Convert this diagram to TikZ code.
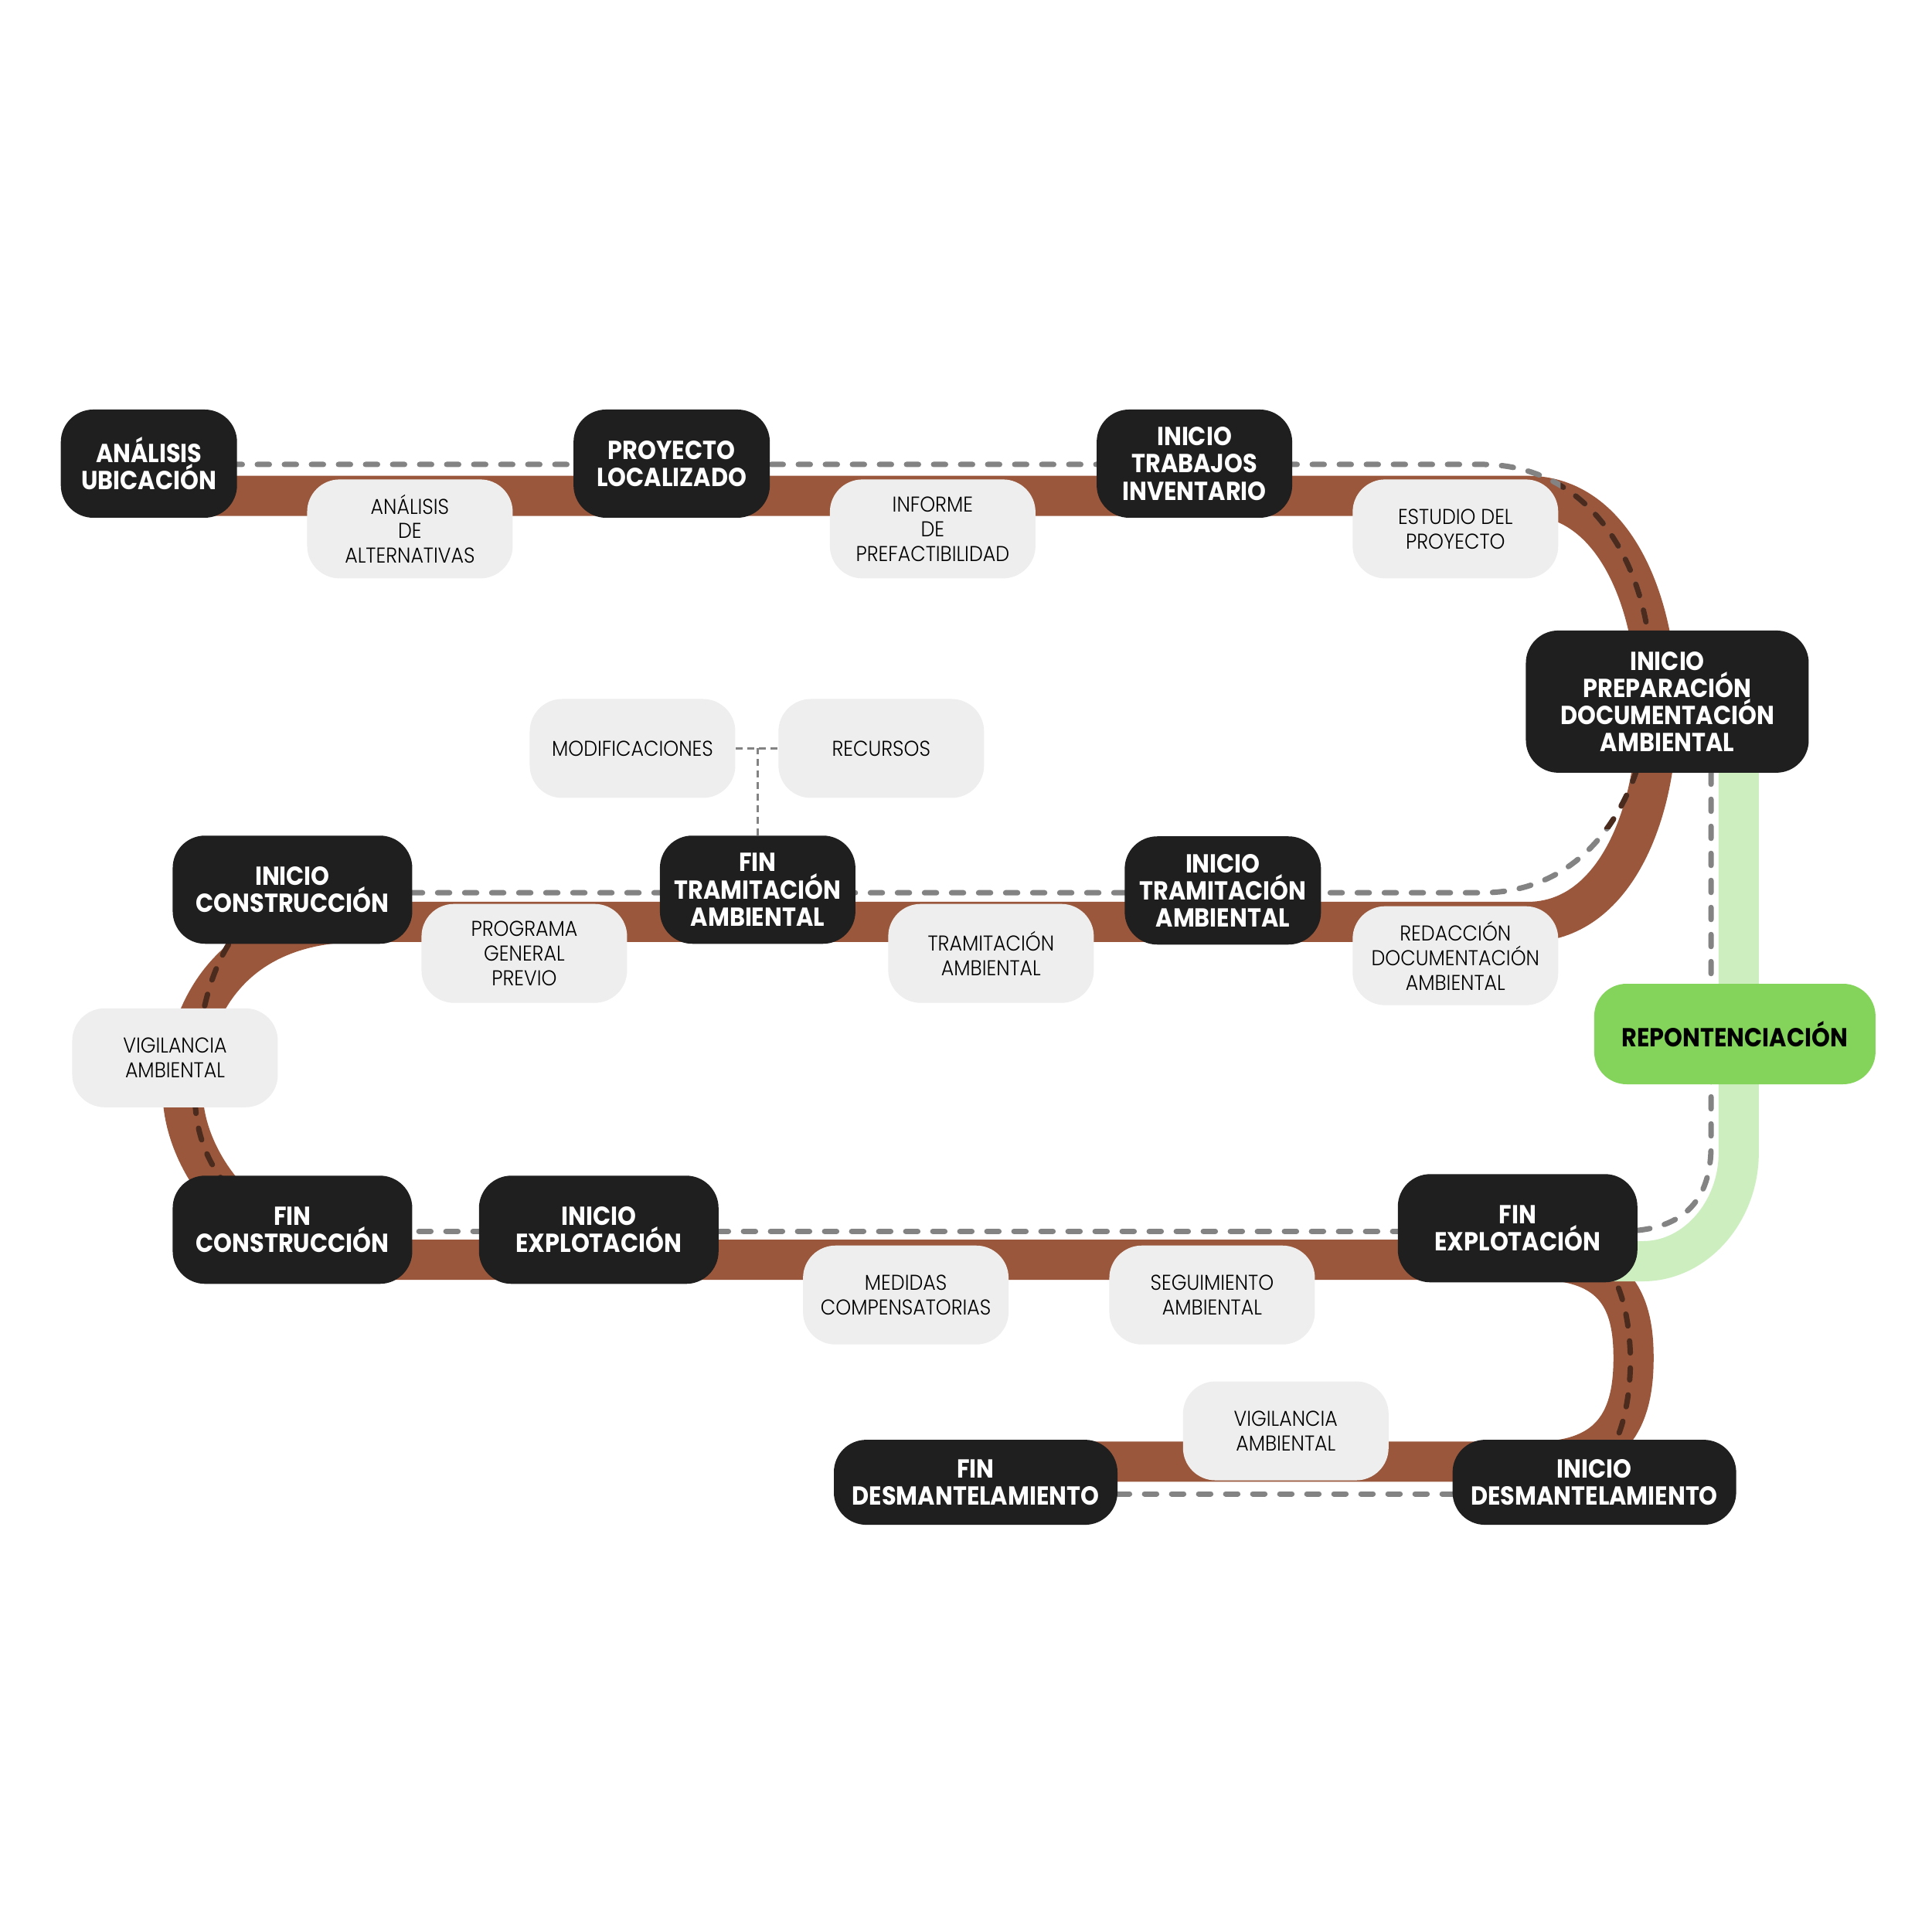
\documentclass[tikz,border=0pt]{standalone}
\usepackage{fontspec}
\newfontfamily\hitofont[FakeStretch=0.9]{Poppins}
\IfFontExistsTF{Poppins Light}
  {\newfontfamily\notafont[FakeStretch=0.91]{Poppins Light}}
  {\newfontfamily\notafont[FakeStretch=0.91]{Poppins}}

\definecolor{hitonegro}{HTML}{1F1F1F}
\definecolor{notagris}{HTML}{EEEEEE}
\definecolor{tierra}{HTML}{9A573B}
\definecolor{guiagris}{HTML}{838383}
\definecolor{guiaoscuro}{HTML}{4A2B1D}
\definecolor{verde}{HTML}{84D35B}
\definecolor{verdeclaro}{HTML}{CDEFC0}

\tikzset{
  hito/.style={fill=hitonegro, text=white, rounded corners=0.42cm, align=center, inner sep=0pt,
    minimum height=1.4cm, font=\hitofont\bfseries\fontsize{9.6}{10}\selectfont},
  nota/.style={fill=notagris, rounded corners=0.42cm, align=center, inner sep=0pt,
    minimum width=2.66cm, minimum height=1.28cm, font=\notafont\fontsize{7.9}{9.1}\selectfont},
  via/.style={line width=0.52cm, draw=tierra},
  ramal/.style={line width=0.52cm, draw=verdeclaro},
  guia/.style={line width=0.07cm, draw=guiagris, line cap=round, dash pattern=on 0.155cm off 0.195cm},
  guiaosc/.style={guia, draw=guiaoscuro},
  enlace/.style={line width=0.025cm, draw=guiagris, dash pattern=on 0.09cm off 0.06cm},
}

\begin{document}
\begin{tikzpicture}[x=0.009934cm, y=-0.009934cm]
  \useasboundingbox[fill=white] (0cm,0cm) rectangle (25cm,-25cm);

  % track
  \draw[via] (200,646) -- (1990,646) .. controls (2215,646) and (2215,1201) .. (1990,1201)
    -- (470,1201) .. controls (320,1201) and (245,1292) .. (238,1422)
    .. controls (238,1517) and (330,1641) .. (480,1641) -- (2000,1641)
    .. controls (2110,1641) and (2128,1702) .. (2128,1769)
    .. controls (2128,1836) and (2110,1904) .. (2000,1904) -- (1250,1904);
  \draw[ramal] (2265,1000) -- (2265,1502) .. controls (2265,1577) and (2210,1643) .. (2140,1643) -- (2050,1643);

  % dashed guide
  \draw[guia] (300,605) -- (1930,605) .. controls (2225,605) and (2225,1163) .. (1930,1163) -- (530,1163);
  \begin{scope}
    \clip (2033,615) rectangle (2300,1080);
    \draw[guiaosc] (300,605) -- (1930,605) .. controls (2225,605) and (2225,1163) .. (1930,1163) -- (530,1163);
  \end{scope}
  \draw[guiaosc] (520,1163) -- (420,1163) .. controls (292,1163) and (257,1292) .. (254,1422)
    .. controls (252,1522) and (320,1604) .. (440,1604);
  \draw[guia] (440,1604) -- (2110,1604);
  \draw[guiaosc] (2000,1604) .. controls (2100,1604) and (2122,1692) .. (2124,1769)
    .. controls (2124,1842) and (2105,1946) .. (2000,1946);
  \draw[guia] (2000,1946) -- (1440,1946);
  \draw[guia] (2229,1006) -- (2229,1492) .. controls (2229,1567) and (2190,1604) .. (2110,1604);

  % notes
  \node[nota] (alternativas) at (534,689) {ANÁLISIS\\DE\\ALTERNATIVAS};
  \node[nota] (informe) at (1215,689) {INFORME\\DE\\PREFACTIBILIDAD};
  \node[nota] (estudio) at (1896,689) {ESTUDIO DEL\\PROYECTO};
  \node[nota] (modif) at (824,975) {MODIFICACIONES};
  \node[nota] (recur) at (1148,975) {RECURSOS};
  \node[nota] (programa) at (683,1242) {PROGRAMA\\GENERAL\\PREVIO};
  \node[nota] (tramita) at (1291,1242) {TRAMITACIÓN\\AMBIENTAL};
  \node[nota] (redacc) at (1896,1245) {REDACCIÓN\\DOCUMENTACIÓN\\AMBIENTAL};
  \node[nota] (vigila) at (228,1378) {VIGILANCIA\\AMBIENTAL};
  \node[nota] (medidas) at (1180,1687) {MEDIDAS\\COMPENSATORIAS};
  \node[nota] (seguim) at (1579,1687) {SEGUIMIENTO\\AMBIENTAL};
  \node[nota] (vigilb) at (1675,1864) {VIGILANCIA\\AMBIENTAL};

  % milestones
  \node[hito, minimum width=2.28cm] (analisis) at (194,604) {ANÁLISIS\\UBICACIÓN};
  \node[hito, minimum width=2.54cm] (proyecto) at (875,604) {PROYECTO\\LOCALIZADO};
  \node[hito, minimum width=2.53cm] (trabajos) at (1556,604) {INICIO\\TRABAJOS\\INVENTARIO};
  \node[hito, minimum width=3.66cm, minimum height=1.84cm] (prepara) at (2172,914) {INICIO\\PREPARACIÓN\\DOCUMENTACIÓN\\AMBIENTAL};
  \node[hito, minimum width=3.1cm] (iniconst) at (381,1159) {INICIO\\CONSTRUCCIÓN};
  \node[hito, minimum width=2.53cm] (fintram) at (987,1159) {FIN\\TRAMITACIÓN\\AMBIENTAL};
  \node[hito, minimum width=2.54cm] (initram) at (1593,1160) {INICIO\\TRAMITACIÓN\\AMBIENTAL};
  \node[hito, minimum width=3.1cm] (finconst) at (381,1602) {FIN\\CONSTRUCCIÓN};
  \node[hito, minimum width=3.1cm] (iniexpl) at (780,1602) {INICIO\\EXPLOTACIÓN};
  \node[hito, minimum width=3.1cm] (finexpl) at (1977,1600) {FIN\\EXPLOTACIÓN};
  \node[hito, minimum width=3.67cm, minimum height=1.1cm] (findesm) at (1271,1931) {FIN\\DESMANTELAMIENTO};
  \node[hito, minimum width=3.67cm, minimum height=1.1cm] (inidesm) at (2077,1931) {INICIO\\DESMANTELAMIENTO};
  \node[hito, fill=verde, text=black, minimum width=3.64cm, minimum height=1.3cm] (repot) at (2260,1347) {REPONTENCIACIÓN};

  \draw[enlace] (modif.east) -- (recur.west);
  \draw[enlace] (fintram.north) -- (fintram.north |- modif.east);
\end{tikzpicture}
\end{document}
